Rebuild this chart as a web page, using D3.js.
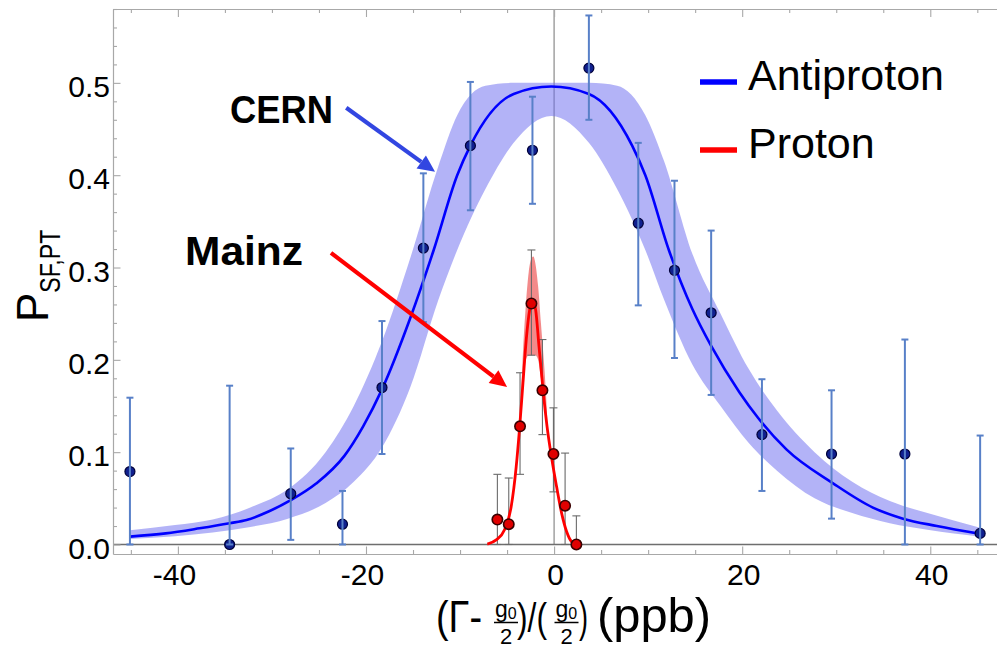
<!DOCTYPE html>
<html><head><meta charset="utf-8">
<script src="https://cdn.jsdelivr.net/npm/d3@7"></script>
<style>
body{margin:0;background:#fff}
svg{display:block}
text{font-family:"Liberation Sans",Arial,Helvetica,sans-serif;fill:#000}
</style>
</head><body>
<svg id="c" width="997" height="648"></svg>
<script>
// ---------- data ----------
const antiX  = [-45.1,-34.5,-28.0,-22.5,-18.3,-13.9,-8.9,-2.3,3.7,8.95,12.8,16.7,22.1,29.5,37.3,45.3];
const antiY  = [0.079,0.0,0.055,0.022,0.17,0.321,0.432,0.427,0.516,0.348,0.297,0.251,0.119,0.098,0.098,0.012];
const antiLo = [0.0,0.0,0.005,0.0,0.098,0.241,0.362,0.369,0.46,0.259,0.202,0.162,0.058,0.028,0.0,0.0];
const antiHi = [0.159,0.172,0.104,0.058,0.242,0.402,0.501,0.485,0.573,0.435,0.394,0.34,0.179,0.167,0.222,0.118];

const antiFitX = [-45.1,-41.3,-37.7,-34.5,-32.7,-30.3,-28.0,-25.3,-22.3,-20.3,-18.3,-15.3,-12.8,-10.3,-8.9,-4.3,-0.3,3.7,8.3,9.7,12.2,14.7,16.7,19.7,21.7,24.7,29.7,33.9,37.1,40.7,45.3];
const antiFitY = [0.0085,0.012,0.0175,0.023,0.0265,0.036,0.048,0.066,0.096,0.128,0.168,0.245,0.319,0.4,0.432,0.488,0.496,0.488,0.432,0.4,0.319,0.255,0.215,0.165,0.137,0.103,0.066,0.04,0.028,0.02,0.0115];

const antiBandX  = [-45.1,-40.3,-36.3,-32.3,-28.3,-24.3,-21.3,-18.3,-15.3,-12.3,-10.3,-7.3,-4.3,-0.3,3.7,6.7,9.7,11.7,14.7,17.7,20.7,23.7,27.7,31.7,35.7,39.7,45.3];
const antiBandLo = [0.006,0.009,0.013,0.019,0.028,0.045,0.068,0.105,0.17,0.265,0.319,0.385,0.435,0.464,0.435,0.385,0.319,0.265,0.195,0.15,0.11,0.08,0.05,0.034,0.023,0.016,0.0085];
const antiBandHi = [0.0155,0.021,0.027,0.04,0.06,0.1,0.15,0.22,0.31,0.41,0.465,0.497,0.5,0.5,0.5,0.497,0.465,0.415,0.315,0.25,0.19,0.145,0.1,0.068,0.047,0.034,0.018];

const protX  = [-6.03,-4.82,-3.62,-2.41,-1.24,-0.07,1.17,2.37];
const protY  = [0.027,0.022,0.128,0.261,0.167,0.098,0.042,0.0];
const protLo = [0.0,0.0,0.076,0.205,0.119,0.057,0.0,0.0];
const protHi = [0.076,0.072,0.186,0.319,0.222,0.148,0.099,0.031];

const protFitX = [-7.1,-6.15,-5.27,-4.56,-4.03,-3.67,-3.31,-2.96,-2.6,-2.32,-1.96,-1.6,-1.17,-0.75,-0.28,0.26,0.8,1.33,1.86,2.39];
const protFitY = [0.0005,0.005,0.016,0.041,0.084,0.126,0.175,0.222,0.254,0.265,0.254,0.214,0.167,0.128,0.095,0.063,0.034,0.014,0.003,0.0];

const protBandX  = [-3.6,-3.3,-3.0,-2.7,-2.4,-2.2,-2.0,-1.7,-1.4,-1.17,-0.9,-0.7];
const protBandLo = [0.13,0.17,0.2,0.205,0.205,0.205,0.205,0.2,0.18,0.165,0.14,0.12];
const protBandHi = [0.14,0.21,0.26,0.295,0.31,0.312,0.305,0.28,0.24,0.21,0.17,0.13];

const xMajorTicks = [-40,-20,0,20,40];
const xMinorTicks = [-45,-35,-30,-25,-15,-10,-5,5,10,15,25,30,35,45];
const yMajorTicks = [0.0,0.1,0.2,0.3,0.4,0.5];
const yMinorTicks = [0.02,0.04,0.06,0.08,0.12,0.14,0.16,0.18,0.22,0.24,0.26,0.28,0.32,0.34,0.36,0.38,0.42,0.44,0.46,0.48,0.52,0.54,0.56,0.58];

const seriesNames = ["Antiproton","Proton"];
const seriesColors = ["#0000ff","#ff0000"];

// ---------- layout ----------
const svg = d3.select("#c");
const L = 113, R = 998, T = 9, B = 554;
const x = d3.scaleLinear().domain([-46.9, 47.2]).range([L, R]);
const y = d3.scaleLinear().domain([-0.0103, 0.58]).range([B, T]);

svg.append("defs").append("clipPath").attr("id","clip")
  .append("rect").attr("x",L).attr("y",T).attr("width",R-L).attr("height",B-T);

const plot = svg.append("g").attr("clip-path","url(#clip)");

// zero lines
plot.append("line").attr("x1",x(0)).attr("x2",x(0)).attr("y1",T).attr("y2",y(0))
  .attr("stroke","#8a8a8a").attr("stroke-width",1.2);
plot.append("line").attr("x1",L).attr("x2",R).attr("y1",y(0)).attr("y2",y(0))
  .attr("stroke","#6e6e6e").attr("stroke-width",1.6);

// bands
const antiBand = antiBandX.map((v,i)=>({x:v,lo:antiBandLo[i],hi:antiBandHi[i]}));
plot.append("path").datum(antiBand)
  .attr("d", d3.area().x(d=>x(d.x)).y0(d=>y(d.lo)).y1(d=>y(d.hi)).curve(d3.curveMonotoneX))
  .attr("fill","rgb(110,110,240)").attr("fill-opacity",0.52);

const protBand = protBandX.map((v,i)=>({x:v,lo:protBandLo[i],hi:protBandHi[i]}));
plot.append("path").datum(protBand)
  .attr("d", d3.area().x(d=>x(d.x)).y0(d=>y(d.lo)).y1(d=>y(d.hi)).curve(d3.curveMonotoneX))
  .attr("fill","rgb(235,60,60)").attr("fill-opacity",0.6);

// fit lines
const line = d3.line().x(d=>x(d[0])).y(d=>y(d[1])).curve(d3.curveMonotoneX);
plot.append("path").datum(antiFitX.map((v,i)=>[v,antiFitY[i]]))
  .attr("d",line).attr("fill","none").attr("stroke",seriesColors[0]).attr("stroke-width",2.6);

// proton error bars (behind points)
const pe = plot.append("g").attr("stroke","#6a6a6a").attr("stroke-width",1.1);
protX.forEach((v,i)=>{
  pe.append("line").attr("x1",x(v)).attr("x2",x(v)).attr("y1",y(protLo[i])).attr("y2",y(protHi[i]));
  pe.append("line").attr("x1",x(v)-4).attr("x2",x(v)+4).attr("y1",y(protHi[i])).attr("y2",y(protHi[i]));
  pe.append("line").attr("x1",x(v)-4).attr("x2",x(v)+4).attr("y1",y(protLo[i])).attr("y2",y(protLo[i]));
});

plot.append("path").datum(protFitX.map((v,i)=>[v,protFitY[i]]))
  .attr("d",line).attr("fill","none").attr("stroke",seriesColors[1]).attr("stroke-width",2.8);

// proton points
plot.append("g").selectAll("circle").data(protX).join("circle")
  .attr("cx",(d)=>x(d)).attr("cy",(d,i)=>y(protY[i])).attr("r",5.2)
  .attr("fill","#e00000").attr("stroke","#3a0000").attr("stroke-width",1.6);

// antiproton points
plot.append("g").selectAll("circle").data(antiX).join("circle")
  .attr("cx",(d)=>x(d)).attr("cy",(d,i)=>y(antiY[i])).attr("r",5)
  .attr("fill","#10208f").attr("stroke","#00003a").attr("stroke-width",1.2);

// antiproton error bars (on top)
const ae = plot.append("g").attr("stroke","rgb(88,128,200)").attr("stroke-width",2);
antiX.forEach((v,i)=>{
  ae.append("line").attr("x1",x(v)).attr("x2",x(v)).attr("y1",y(antiLo[i])).attr("y2",y(antiHi[i]));
  ae.append("line").attr("x1",x(v)-3.5).attr("x2",x(v)+3.5).attr("y1",y(antiHi[i])).attr("y2",y(antiHi[i]));
  ae.append("line").attr("x1",x(v)-3.5).attr("x2",x(v)+3.5).attr("y1",y(antiLo[i])).attr("y2",y(antiLo[i]));
});

// ---------- frame & axes ----------
const frameColor = "#a8a8a8";
function styleAxis(g){
  g.select(".domain").attr("stroke",frameColor).attr("stroke-width",1.2);
  g.selectAll(".tick line").attr("stroke",frameColor).attr("stroke-width",1.1);
}
const fmtX = d => (d<0 ? "-" : "") + Math.abs(d);
// bottom
const gb = svg.append("g").attr("transform",`translate(0,${B})`)
  .call(d3.axisBottom(x).tickValues(xMajorTicks).tickSizeInner(-7.5).tickSizeOuter(0).tickFormat(fmtX));
styleAxis(gb);
gb.selectAll(".tick text").attr("y",31).attr("dy",0).attr("dx",d=>d<0?-4:1)
  .style("font-size","30px").attr("fill","#000");
const gbm = svg.append("g").attr("transform",`translate(0,${B})`)
  .call(d3.axisBottom(x).tickValues(xMinorTicks).tickSizeInner(-4).tickSizeOuter(0).tickFormat(""));
styleAxis(gbm); gbm.select(".domain").remove();
// top
const gt = svg.append("g").attr("transform",`translate(0,${T})`)
  .call(d3.axisTop(x).tickValues(xMajorTicks).tickSizeInner(-8).tickSizeOuter(0).tickFormat(""));
styleAxis(gt);
const gtm = svg.append("g").attr("transform",`translate(0,${T})`)
  .call(d3.axisTop(x).tickValues(xMinorTicks).tickSizeInner(-4).tickSizeOuter(0).tickFormat(""));
styleAxis(gtm); gtm.select(".domain").remove();
// left
const gl = svg.append("g").attr("transform",`translate(${L},0)`)
  .call(d3.axisLeft(y).tickValues(yMajorTicks).tickSizeInner(-7.5).tickSizeOuter(0).tickPadding(3).tickFormat(d3.format(".1f")));
styleAxis(gl);
gl.selectAll(".tick text").attr("dy","0.46em").style("font-size","30px").attr("fill","#000");
const glm = svg.append("g").attr("transform",`translate(${L},0)`)
  .call(d3.axisLeft(y).tickValues(yMinorTicks).tickSizeInner(-4).tickSizeOuter(0).tickFormat(""));
styleAxis(glm); glm.select(".domain").remove();

// ---------- axis titles ----------
const yl = svg.append("text").attr("transform","translate(48,322) rotate(-90)");
yl.append("tspan").text("P").style("font-size","44px");
yl.append("tspan").text("SF,PT").attr("dy",12).style("font-size","29px")
  .attr("textLength",63).attr("lengthAdjust","spacingAndGlyphs");

// x title: separate pieces, advance widths kept apart
const base = 632;
const xt = svg.append("g");
function piece(str, px, width, size){
  return xt.append("text").attr("x",px).attr("y",base).style("font-size",(size||44)+"px")
    .attr("textLength",width).attr("lengthAdjust","spacingAndGlyphs").text(str);
}
function frac(cx){
  const n = xt.append("text").attr("x",cx-11).attr("y",617).style("font-size","23px");
  n.append("tspan").text("g");
  n.append("tspan").text("0").attr("dy",2).style("font-size","16px");
  xt.append("line").attr("x1",cx-12).attr("x2",cx+12).attr("y1",622.5).attr("y2",622.5)
    .attr("stroke","#000").attr("stroke-width",1.5);
  xt.append("text").attr("x",cx-6).attr("y",644).style("font-size","22px").text("2");
}
piece("(Γ-", 436, 46);
frac(506);
piece(")/(", 517, 30, 40);
frac(566.5);
piece(")", 579, 9);
piece("(ppb)", 597, 114, 48);

// ---------- legend ----------
const lg = svg.append("g");
seriesNames.forEach((n,i)=>{
  const ly = 82 + i*68;
  lg.append("line").attr("x1",700).attr("x2",737).attr("y1",ly).attr("y2",ly)
    .attr("stroke",seriesColors[i]).attr("stroke-width",5.5);
  lg.append("text").attr("x",748).attr("y",ly+8).style("font-size","43px").text(n);
});

// ---------- annotations ----------
function arrow(x1,y1,x2,y2,color){
  const px1=x(x1), py1=y(y1), px2=x(x2), py2=y(y2);
  const a = Math.atan2(py2-py1, px2-px1);
  const hl = 17, hw = 8;
  const bx = px2 - hl*Math.cos(a), by = py2 - hl*Math.sin(a);
  svg.append("line").attr("x1",px1).attr("y1",py1).attr("x2",bx).attr("y2",by)
    .attr("stroke",color).attr("stroke-width",4.2);
  svg.append("polygon").attr("points",[
    [px2,py2],
    [bx + hw*Math.sin(a), by - hw*Math.cos(a)],
    [bx - hw*Math.sin(a), by + hw*Math.cos(a)]
  ].map(p=>p.join(",")).join(" ")).attr("fill",color);
}
arrow(-22.1,0.473,-12.66,0.4036,"rgb(50,70,225)");
arrow(-23.72,0.3158,-5.0,0.1706,"#ff0000");

svg.append("text").attr("x",230).attr("y",123).style("font-size","39px").style("font-weight","bold")
  .attr("textLength",103).attr("lengthAdjust","spacingAndGlyphs").text("CERN");
svg.append("text").attr("x",185).attr("y",265).style("font-size","40px").style("font-weight","bold")
  .attr("textLength",118).attr("lengthAdjust","spacingAndGlyphs").text("Mainz");
</script>
</body></html>
